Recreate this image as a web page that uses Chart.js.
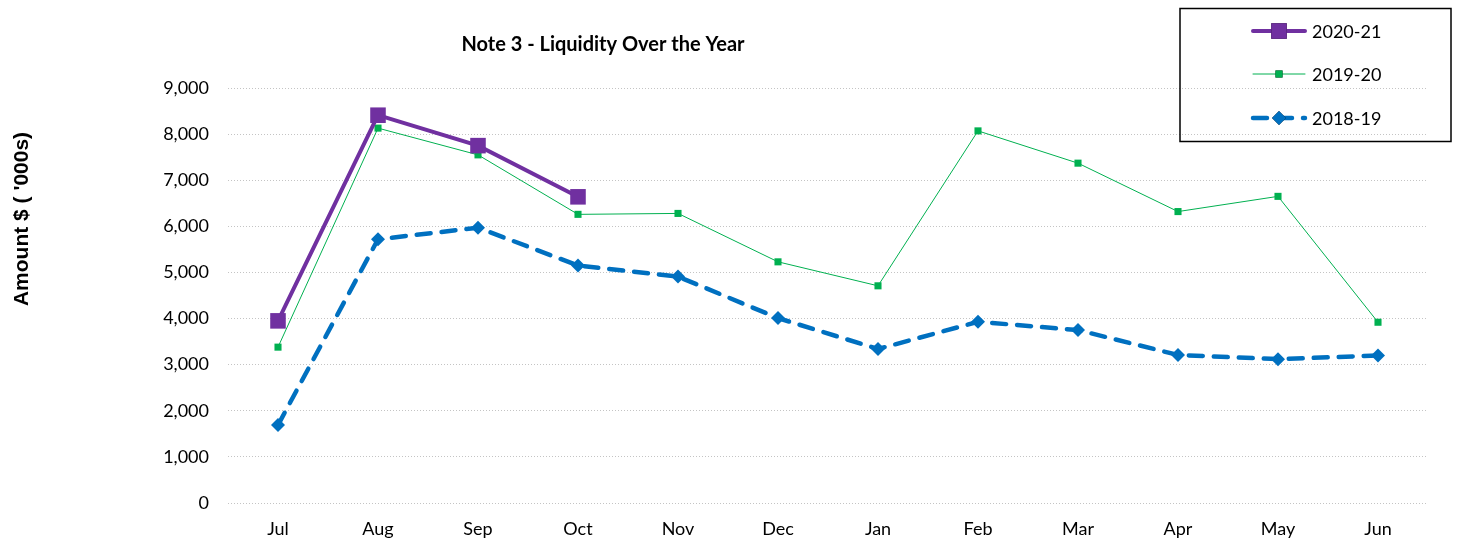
<!DOCTYPE html>
<html>
<head>
<meta charset="utf-8">
<script src="https://cdn.jsdelivr.net/npm/chart.js@4"></script>
<style>
  html, body { margin: 0; padding: 0; background: #fff; }
  #wrap { position: relative; width: 1461px; height: 543px; }
</style>
</head>
<body>
<div id="wrap"><canvas id="c" width="1461" height="543"></canvas></div>
<script>
const categories = ['Jul','Aug','Sep','Oct','Nov','Dec','Jan','Feb','Mar','Apr','May','Jun'];
const series2021 = [3950, 8410, 7750, 6640, null, null, null, null, null, null, null, null];
const series1920 = [3380, 8130, 7550, 6260, 6280, 5230, 4710, 8070, 7370, 6320, 6650, 3920];
const series1819 = [1690, 5720, 5970, 5150, 4910, 4010, 3340, 3930, 3750, 3210, 3120, 3200];
const yTicks = [0, 1000, 2000, 3000, 4000, 5000, 6000, 7000, 8000, 9000];
const titleText = 'Note 3 - Liquidity Over the Year';
const yTitleText = "Amount $ ( '000s)";

const PURPLE = '#7030A0', GREEN = '#00B050', BLUE = '#0070C0';

const decor = {
  id: 'decor',
  afterDraw(chart) {
    const ctx = chart.ctx;
    ctx.save();
    // Title
    ctx.fillStyle = '#000';
    ctx.font = 'bold 20px Lato';
    ctx.textAlign = 'center';
    ctx.textBaseline = 'middle';
    ctx.fillText(titleText, 603, 45);
    // Y title
    ctx.save();
    ctx.translate(22, 219);
    ctx.rotate(-Math.PI / 2);
    ctx.font = 'bold 21px "Liberation Sans"';
    ctx.fillText(yTitleText, 0, 0);
    ctx.restore();
    // Legend box
    ctx.lineWidth = 1.5;
    ctx.strokeStyle = '#000';
    ctx.strokeRect(1180, 8.5, 271, 133);
    const items = chart.data.datasets;
    const ys = [31, 74, 118];
    items.forEach((ds, i) => {
      const y = ys[i];
      ctx.save();
      ctx.strokeStyle = ds.borderColor;
      ctx.lineWidth = ds.borderWidth;
      ctx.lineCap = 'round';
      ctx.setLineDash(ds.borderDash || []);
      ctx.beginPath();
      ctx.moveTo(1253, y);
      ctx.lineTo(1305, y);
      ctx.stroke();
      ctx.setLineDash([]);
      Chart.helpers.drawPoint(ctx, {
        pointStyle: ds.pointStyle,
        radius: ds.pointRadius,
        borderWidth: 0,
        rotation: 0
      }, 1279, y);
      ctx.fillStyle = ds.pointBackgroundColor;
      ctx.fill();
      ctx.restore();
      ctx.fillStyle = '#000';
      ctx.font = '18px Lato';
      ctx.textAlign = 'left';
      ctx.textBaseline = 'middle';
      ctx.fillText(ds.label, 1312, y + 1);
    });
    ctx.restore();
  }
};

new Chart(document.getElementById('c'), {
  type: 'line',
  data: {
    labels: categories,
    datasets: [
      {
        label: '2020-21', data: series2021,
        borderColor: PURPLE, backgroundColor: PURPLE,
        pointBackgroundColor: PURPLE, pointBorderColor: PURPLE,
        borderWidth: 4, pointStyle: 'rect', pointRadius: 11, pointBorderWidth: 0,
        spanGaps: false, order: 1
      },
      {
        label: '2019-20', data: series1920,
        borderColor: GREEN, backgroundColor: GREEN,
        pointBackgroundColor: GREEN, pointBorderColor: GREEN,
        borderWidth: 1, pointStyle: 'rect', pointRadius: 5, pointBorderWidth: 0,
        order: 2
      },
      {
        label: '2018-19', data: series1819,
        borderColor: BLUE, backgroundColor: BLUE,
        pointBackgroundColor: BLUE, pointBorderColor: BLUE,
        borderWidth: 4.5, borderDash: [14, 11], borderCapStyle: 'round',
        pointStyle: 'rectRot', pointRadius: 7, pointBorderWidth: 0,
        order: 3
      }
    ]
  },
  options: {
    responsive: false,
    animation: false,
    events: [],
    layout: { padding: { top: 88, right: 33, left: 0, bottom: 0 } },
    plugins: { legend: { display: false }, title: { display: false }, tooltip: { enabled: false } },
    scales: {
      x: {
        offset: true,
        grid: { display: false, drawTicks: false },
        border: { display: false },
        ticks: { color: '#000', font: { family: 'Lato', size: 18 }, padding: 15, maxRotation: 0 },
        afterFit(s) { s.height = 40; }
      },
      y: {
        min: 0, max: 9000,
        afterBuildTicks(s) { s.ticks = yTicks.map(v => ({ value: v })); },
        grid: { color: '#C4C4C4', lineWidth: 1, drawTicks: false },
        border: { display: false, dash: [1, 2] },
        ticks: {
          color: '#000', font: { family: 'Lato', size: 18 }, padding: 19,
          callback: v => v.toLocaleString('en-US')
        },
        afterFit(s) { s.width = 228; }
      }
    }
  },
  plugins: [decor]
});
</script>
</body>
</html>
